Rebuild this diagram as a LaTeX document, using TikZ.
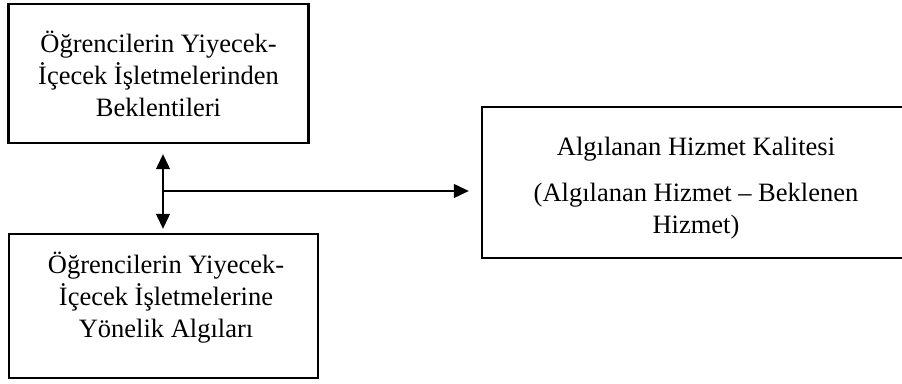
\documentclass[tikz,border=0pt]{standalone}
\usepackage{fontspec}
\setmainfont{Liberation Serif}
\usetikzlibrary{arrows.meta}
\begin{document}
\begin{tikzpicture}[x=1pt,y=1pt,
  box/.style={draw, line width=2.4pt, rectangle, align=center, inner sep=0pt,
    font=\fontsize{26.5}{32}\selectfont},
  conn/.style={line width=1.2pt, -{Triangle[length=15pt,width=14pt]}},
  dconn/.style={line width=1.2pt, {Triangle[length=15pt,width=14pt]}-{Triangle[length=15pt,width=14pt]}}]
\useasboundingbox (0,0) rectangle (902,383);
\node[box, minimum width=300pt, minimum height=139pt] (top) at (158.5,309.5)
  {Öğrencilerin Yiyecek-\\İçecek İşletmelerinden\\Beklentileri};
\node[box, minimum width=309pt, minimum height=144pt] (bottom) at (163.5,77) {};
\node[font=\fontsize{26.5}{32}\selectfont, align=center] (btext) at (166,85)
  {Öğrencilerin Yiyecek-\\İçecek İşletmelerine\\Yönelik Algıları};
\node[box, minimum width=422pt, minimum height=151pt] (right) at (693,200.5) {};
\node[font=\fontsize{26.5}{32}\selectfont, align=center] (rtext) at (696,195)
  {Algılanan Hizmet Kalitesi\\[14pt](Algılanan Hizmet – Beklenen\\Hizmet)};
\coordinate (j) at (163,192);
\draw[dconn, shorten <=10pt, shorten >=4pt] (top.south -| j) -- (bottom.north -| j);
\draw[conn, shorten >=12pt] (j) -- (j -| right.west);
\end{tikzpicture}
\end{document}
